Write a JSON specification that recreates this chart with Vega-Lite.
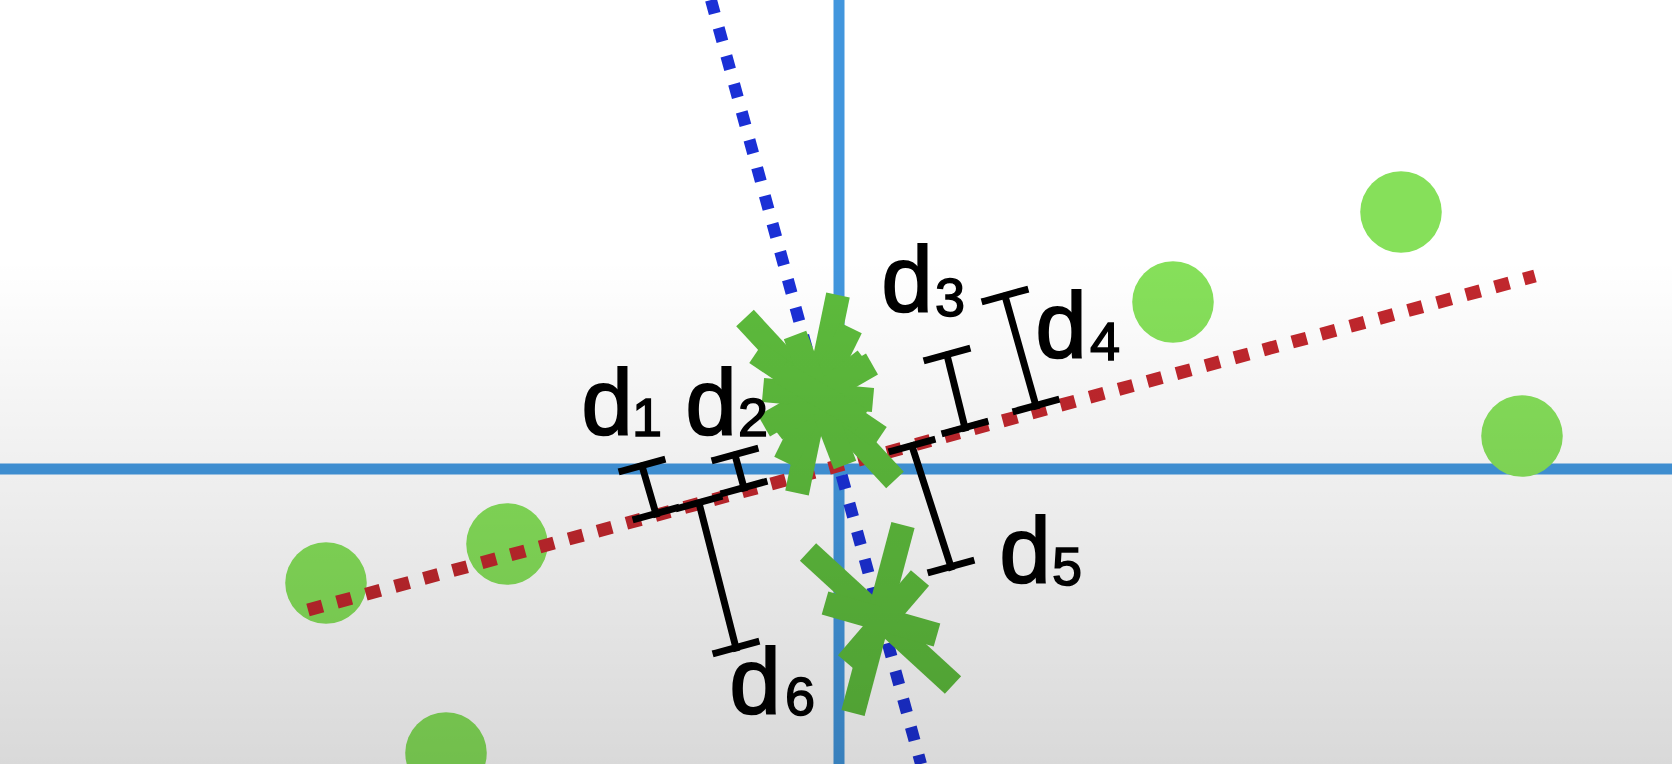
{
  "$schema": "https://vega.github.io/schema/vega-lite/v6.json",
  "width": 1672,
  "height": 764,
  "autosize": {"type": "none"},
  "padding": 0,
  "background": "#ffffff",
  "config": {"view": {"stroke": null}},
  "datasets": {
    "axes": [
      {"x": 0, "y": 469, "x2": 1672, "y2": 469},
      {"x": 839, "y": 0, "x2": 839, "y2": 764}
    ],
    "pc1": [{"x": 308, "y": 610, "x2": 1535, "y2": 276}],
    "pc2": [{"x": 711, "y": 0, "x2": 921, "y2": 764}],
    "points": [
      {"x": 326, "y": 583},
      {"x": 507, "y": 544},
      {"x": 446, "y": 753},
      {"x": 1173, "y": 302},
      {"x": 1401, "y": 212},
      {"x": 1522, "y": 436}
    ],
    "crosses": [
      {"x": 745, "y": 318, "x2": 895, "y2": 480},
      {"x": 838, "y": 295, "x2": 797, "y2": 493},
      {"x": 756, "y": 353, "x2": 880, "y2": 437},
      {"x": 872, "y": 364, "x2": 764, "y2": 426},
      {"x": 763, "y": 390, "x2": 873, "y2": 400},
      {"x": 851, "y": 328, "x2": 785, "y2": 462},
      {"x": 795, "y": 335, "x2": 845, "y2": 465},
      {"x": 775, "y": 430, "x2": 865, "y2": 360},
      {"x": 780, "y": 372, "x2": 862, "y2": 420},
      {"x": 808, "y": 552, "x2": 953, "y2": 685},
      {"x": 903, "y": 525, "x2": 853, "y2": 713},
      {"x": 825, "y": 603, "x2": 937, "y2": 635},
      {"x": 920, "y": 578, "x2": 847, "y2": 663}
    ],
    "bars": [
      {"d": "d1", "x": 642, "y": 466, "x2": 656, "y2": 514},
      {"d": "d1", "x": 622, "y": 471, "x2": 662, "y2": 460},
      {"d": "d1", "x": 636, "y": 519, "x2": 676, "y2": 508},
      {"d": "d2", "x": 735, "y": 455, "x2": 744, "y2": 488},
      {"d": "d2", "x": 715, "y": 460, "x2": 755, "y2": 449},
      {"d": "d2", "x": 724, "y": 493, "x2": 764, "y2": 482},
      {"d": "d3", "x": 947, "y": 355, "x2": 965, "y2": 428},
      {"d": "d3", "x": 927, "y": 360, "x2": 967, "y2": 349},
      {"d": "d3", "x": 945, "y": 433, "x2": 985, "y2": 422},
      {"d": "d4", "x": 1005, "y": 296, "x2": 1036, "y2": 406},
      {"d": "d4", "x": 985, "y": 301, "x2": 1025, "y2": 290},
      {"d": "d4", "x": 1016, "y": 411, "x2": 1056, "y2": 400},
      {"d": "d5", "x": 912, "y": 446, "x2": 951, "y2": 567},
      {"d": "d5", "x": 892, "y": 451, "x2": 932, "y2": 440},
      {"d": "d5", "x": 931, "y": 572, "x2": 971, "y2": 561},
      {"d": "d6", "x": 699, "y": 503, "x2": 736, "y2": 648},
      {"d": "d6", "x": 679, "y": 508, "x2": 719, "y2": 497},
      {"d": "d6", "x": 716, "y": 653, "x2": 756, "y2": 642}
    ],
    "letters": [
      {"t": "d", "x": 607, "y": 434},
      {"t": "d", "x": 711, "y": 434},
      {"t": "d", "x": 907, "y": 311},
      {"t": "d", "x": 1061, "y": 357},
      {"t": "d", "x": 1025, "y": 582},
      {"t": "d", "x": 755, "y": 713}
    ],
    "subscripts": [
      {"t": "1", "x": 647, "y": 436},
      {"t": "2", "x": 753, "y": 436},
      {"t": "3", "x": 950, "y": 316},
      {"t": "4", "x": 1105, "y": 360},
      {"t": "5", "x": 1067, "y": 585},
      {"t": "6", "x": 800, "y": 715}
    ],
    "shade": [{"x": 0, "y": 0, "x2": 1672, "y2": 764}]
  },
  "encoding": {
    "x": {"field": "x", "type": "quantitative", "scale": {"domain": [0, 1672], "nice": false, "zero": false}, "axis": null},
    "y": {"field": "y", "type": "quantitative", "scale": {"domain": [0, 764], "nice": false, "zero": false, "reverse": true}, "axis": null}
  },
  "layer": [
    {
      "data": {"name": "axes"},
      "mark": {"type": "rule", "color": "#4296dd", "strokeWidth": 11, "clip": true},
      "encoding": {"x2": {"field": "x2"}, "y2": {"field": "y2"}}
    },
    {
      "data": {"name": "points"},
      "mark": {"type": "circle", "size": 6650, "color": "#86e05a", "opacity": 1, "clip": true}
    },
    {
      "data": {"name": "pc1"},
      "mark": {"type": "rule", "color": "#c1272d", "strokeWidth": 13, "strokeDash": [15, 15]},
      "encoding": {"x2": {"field": "x2"}, "y2": {"field": "y2"}}
    },
    {
      "data": {"name": "pc2"},
      "mark": {"type": "rule", "color": "#1b30d6", "strokeWidth": 12, "strokeDash": [14, 15], "clip": true},
      "encoding": {"x2": {"field": "x2"}, "y2": {"field": "y2"}}
    },
    {
      "data": {"name": "crosses"},
      "mark": {"type": "rule", "color": "#5dbb3c", "strokeWidth": 24, "strokeCap": "butt"},
      "encoding": {"x2": {"field": "x2"}, "y2": {"field": "y2"}}
    },
    {
      "data": {"name": "bars"},
      "mark": {"type": "rule", "color": "#000000", "strokeWidth": 7, "strokeCap": "square"},
      "encoding": {"x2": {"field": "x2"}, "y2": {"field": "y2"}}
    },
    {
      "data": {"name": "letters"},
      "mark": {"type": "text", "font": "Liberation Sans", "fontSize": 92, "align": "center", "baseline": "alphabetic", "color": "#000000", "stroke": "#000000", "strokeWidth": 2},
      "encoding": {"text": {"field": "t"}}
    },
    {
      "data": {"name": "subscripts"},
      "mark": {"type": "text", "font": "Liberation Sans", "fontSize": 54, "align": "center", "baseline": "alphabetic", "color": "#000000", "stroke": "#000000", "strokeWidth": 1.5},
      "encoding": {"text": {"field": "t"}}
    },
    {
      "data": {"name": "shade"},
      "mark": {
        "type": "rect",
        "fill": {
          "gradient": "linear", "x1": 0, "y1": 0, "x2": 0, "y2": 1,
          "stops": [
            {"offset": 0, "color": "rgba(0,0,0,0)"},
            {"offset": 0.34, "color": "rgba(0,0,0,0)"},
            {"offset": 1, "color": "rgba(0,0,0,0.15)"}
          ]
        }
      },
      "encoding": {"x2": {"field": "x2"}, "y2": {"field": "y2"}}
    }
  ]
}
